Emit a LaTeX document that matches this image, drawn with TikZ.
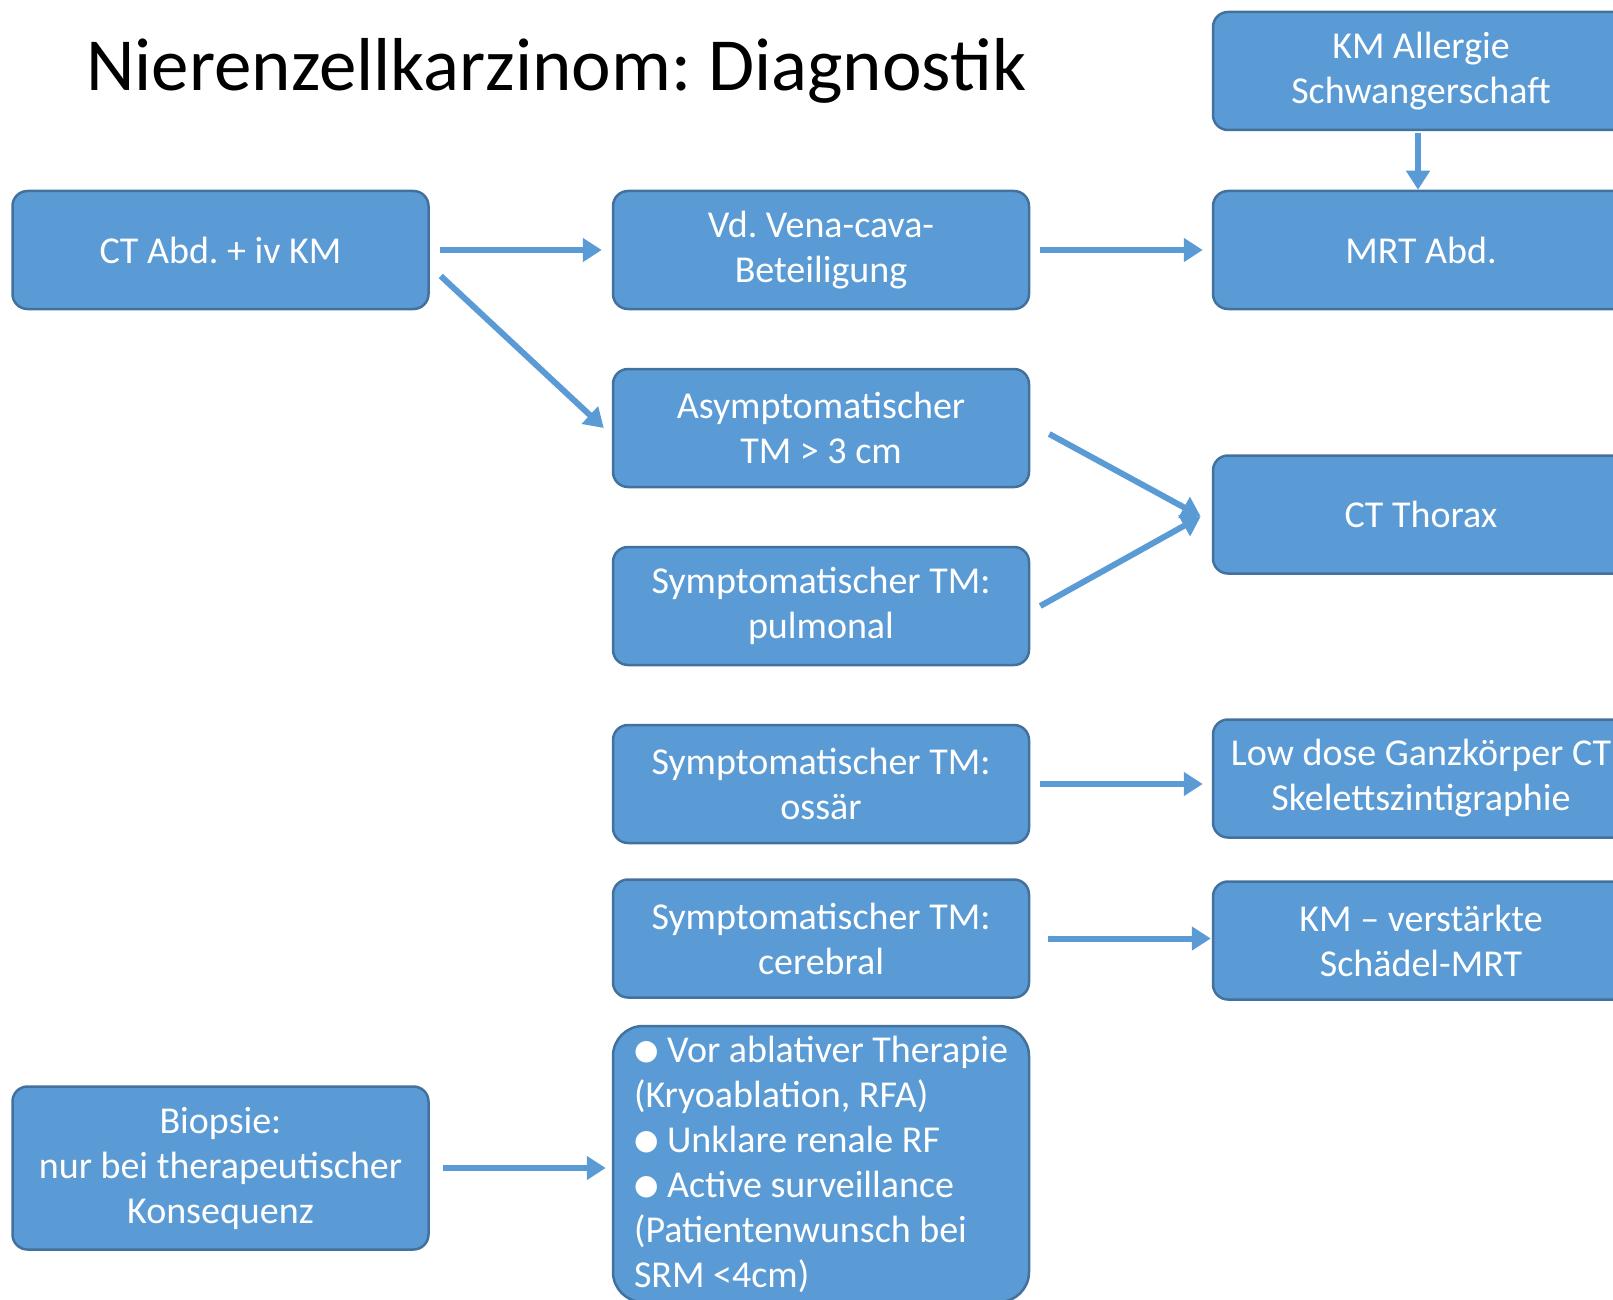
\documentclass[tikz,border=0pt]{standalone}
\usepackage{fontspec}
\setmainfont{Carlito}
\newfontfamily\symfont{DejaVu Sans}
\usetikzlibrary{positioning,arrows.meta}
\definecolor{boxblue}{HTML}{5B9BD5}
\definecolor{boxline}{HTML}{41719C}
\newcommand{\punkt}{\raisebox{3pt}{\symfont\fontsize{28}{28}\selectfont ●}}
\frenchspacing

\begin{document}
\begin{tikzpicture}[x=1pt,y=-1pt,node distance=2cm,on grid,
   box/.style={draw=boxline,line width=2.5pt,fill=boxblue,rounded corners=15pt,
     minimum width=416pt,minimum height=118pt,inner sep=0pt,text=white,
     align=center,font=\fontsize{38}{45}\selectfont},
   pfeil/.style={draw=boxblue,line width=6pt,-{Triangle[length=19pt,width=23pt]}}]
   \path[use as bounding box] (0,0) rectangle (1613,1300);
   \clip (0,0) rectangle (1613,1300);
   \node[anchor=base west,inner sep=0pt,font=\fontsize{75}{90}\selectfont] (titel) at (86,91) {Nierenzellkarzinom: Diagnostik};
   \node[box] (ct_abd) at (220.5,250) {CT Abd. + iv KM};
   \node[box] (vena) [right=600.5pt of ct_abd] {Vd. Vena-cava-\\Beteiligung};
   \node[box] (asym) [below=178pt of vena] {Asymptomatischer\\TM > 3 cm};
   \node[box] (pulm) [below=178pt of asym] {Symptomatischer TM:\\pulmonal};
   \node[box] (ossaer) [below=178pt of pulm] {Symptomatischer TM:\\ossär};
   \node[box] (cereb) [below=154.5pt of ossaer] {Symptomatischer TM:\\cerebral};
   \node[box,align=left,minimum height=276pt,rounded corners=30pt] (indik) [below=225.5pt of cereb]
      {\punkt{} Vor ablativer Therapie\\(Kryoablation, RFA)\\\punkt{} Unklare renale RF\\\punkt{} Active surveillance\\(Patientenwunsch bei\\SRM <4cm)};
   \node[box] (mrt) [right=600pt of vena] {MRT Abd.};
   \node[box] (km) [above=179pt of mrt] {KM Allergie\\Schwangerschaft};
   \node[box] (thorax) [below=264.5pt of mrt] {CT Thorax};
   \node[box] (ganzk) [below=264pt of thorax] {Low dose Ganzkörper CT\\Skelettszintigraphie};
   \node[box] (schaedel) [below=162pt of ganzk] {KM – verstärkte\\Schädel-MRT};
   \node[box,minimum height=163pt] (biopsie) [below=918pt of ct_abd] {Biopsie:\\nur bei therapeutischer\\Konsequenz};
   % Verbindungen
   \draw[pfeil,shorten <=10pt,shorten >=10pt] (ct_abd.east) -- (vena.west);
   \draw[pfeil] ([xshift=11pt,yshift=-26pt]ct_abd.east) -- ([xshift=-8pt]asym.west);
   \draw[pfeil,shorten <=10pt,shorten >=9pt] (vena.east) -- (mrt.west);
   \draw[pfeil,shorten <=2pt] ([xshift=-3pt]km.south) -- ([xshift=-3pt]mrt.north);
   \draw[pfeil] ([xshift=19pt,yshift=-6pt]asym.east) -- ([xshift=-11pt,yshift=-2pt]thorax.west);
   \draw[pfeil] ([xshift=10pt]pulm.east) -- ([xshift=-11pt,yshift=-2pt]thorax.west);
   \draw[pfeil,shorten <=10pt,shorten >=9pt] (ossaer.east) -- (ossaer.east -| ganzk.west);
   \draw[pfeil,shorten <=18pt,shorten >=1pt] (cereb.east) -- (cereb.east -| schaedel.west);
   \draw[pfeil,shorten <=13pt,shorten >=6pt] (biopsie.east) -- (biopsie.east -| indik.west);
  \end{tikzpicture}
\end{document}
